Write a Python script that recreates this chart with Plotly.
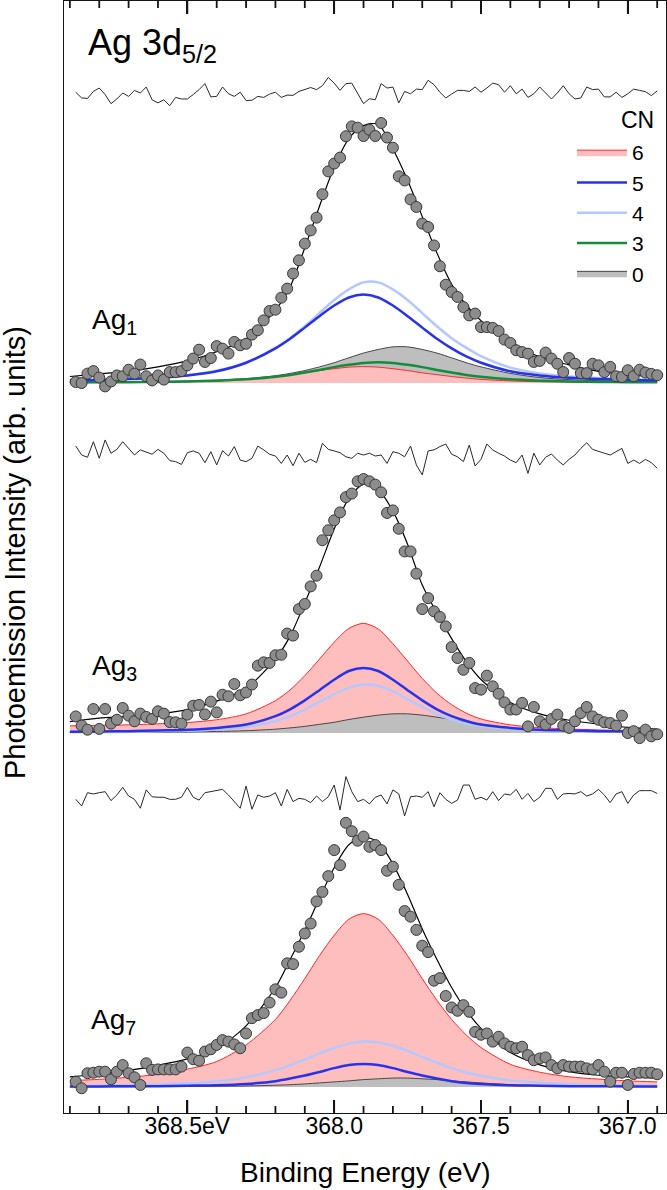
import plotly.graph_objects as go

# ---------------- data ----------------
# measured-point energy grid (eV)
energy = [
    368.88, 368.86, 368.84, 368.82, 368.80, 368.78, 368.76, 368.74, 368.72, 368.70,
    368.68, 368.66, 368.64, 368.62, 368.60, 368.58, 368.56, 368.54, 368.52, 368.50,
    368.48, 368.46, 368.44, 368.42, 368.40, 368.38, 368.36, 368.34, 368.32, 368.30,
    368.28, 368.26, 368.24, 368.22, 368.20, 368.18, 368.16, 368.14, 368.12, 368.10,
    368.08, 368.06, 368.04, 368.02, 368.00, 367.98, 367.96, 367.94, 367.92, 367.90,
    367.88, 367.86, 367.84, 367.82, 367.80, 367.78, 367.76, 367.74, 367.72, 367.70,
    367.68, 367.66, 367.64, 367.62, 367.60, 367.58, 367.56, 367.54, 367.52, 367.50,
    367.48, 367.46, 367.44, 367.42, 367.40, 367.38, 367.36, 367.34, 367.32, 367.30,
    367.28, 367.26, 367.24, 367.22, 367.20, 367.18, 367.16, 367.14, 367.12, 367.10,
    367.08, 367.06, 367.04, 367.02, 367.00, 366.98, 366.96, 366.94, 366.92, 366.90]

# fit-curve energy grid (eV)
energy_fit = [368.9, 368.8, 368.7, 368.6, 368.5, 368.4, 368.3, 368.2, 368.15, 368.1,
              368.05, 368.0, 367.95, 367.9, 367.85, 367.8, 367.75, 367.7, 367.65, 367.6,
              367.55, 367.5, 367.4, 367.3, 367.2, 367.1, 367.0, 366.9]

# ---- Ag1 ----
ag1_data = [
    0.004, 0.000, 0.036, 0.046, 0.021, -0.013, 0.006, 0.029, 0.026, 0.051,
    0.036, 0.071, 0.026, 0.010, 0.029, 0.013, 0.042, 0.042, 0.046, 0.068,
    0.094, 0.128, 0.081, 0.096, 0.142, 0.132, 0.113, 0.158, 0.145, 0.151,
    0.186, 0.203, 0.241, 0.277, 0.282, 0.328, 0.363, 0.421, 0.472, 0.536,
    0.587, 0.636, 0.726, 0.814, 0.844, 0.867, 0.949, 0.987, 0.982, 0.950,
    0.974, 0.950, 1.000, 0.944, 0.905, 0.795, 0.779, 0.706, 0.677, 0.613,
    0.600, 0.529, 0.449, 0.378, 0.350, 0.331, 0.292, 0.260, 0.267, 0.215,
    0.215, 0.212, 0.200, 0.167, 0.154, 0.126, 0.119, 0.113, 0.081, 0.085,
    0.117, 0.094, 0.074, 0.042, 0.096, 0.074, 0.038, 0.038, 0.074, 0.068,
    0.042, 0.062, 0.026, 0.023, 0.049, 0.026, 0.051, 0.040, 0.035, 0.030]
ag1_resid = [
    0.003, -0.019, -0.021, 0.006, 0.019, -0.006, -0.041, -0.023, 0.000, -0.013,
    0.010, 0.000, 0.023, -0.026, -0.038, -0.026, -0.049, -0.017, -0.023, -0.023,
    -0.006, 0.013, 0.036, -0.015, -0.013, 0.023, -0.003, -0.013, 0.003, -0.029,
    -0.028, -0.013, -0.017, -0.004, 0.003, -0.017, -0.008, -0.009, 0.006, 0.015,
    0.021, 0.013, 0.028, 0.060, 0.038, 0.010, 0.036, 0.038, -0.004, -0.041,
    -0.022, -0.026, 0.036, 0.019, 0.023, -0.038, 0.006, -0.003, 0.015, 0.013,
    0.049, 0.032, 0.003, -0.019, -0.004, 0.010, 0.010, 0.006, 0.023, 0.003,
    0.019, 0.038, 0.032, 0.003, 0.028, -0.003, 0.015, -0.017, -0.003, 0.023,
    0.000, -0.023, 0.000, 0.028, -0.003, -0.023, -0.019, 0.023, 0.013, 0.015,
    -0.015, -0.015, 0.003, -0.017, -0.003, 0.015, 0.010, 0.005, -0.010, 0.008]
ag1_fit = [0.025, 0.035, 0.045, 0.062, 0.085, 0.120, 0.170, 0.280, 0.370, 0.520,
           0.680, 0.830, 0.940, 0.990, 0.995, 0.900, 0.780, 0.640, 0.500, 0.380,
           0.300, 0.240, 0.160, 0.100, 0.070, 0.045, 0.032, 0.022]
ag1_cn6 = [0.002, 0.002, 0.003, 0.004, 0.005, 0.008, 0.014, 0.025, 0.032, 0.039,
           0.048, 0.055, 0.061, 0.063, 0.061, 0.055, 0.048, 0.039, 0.032, 0.025,
           0.019, 0.014, 0.008, 0.005, 0.004, 0.003, 0.002, 0.002]
ag1_cn5 = [0.010, 0.012, 0.015, 0.020, 0.029, 0.045, 0.078, 0.133, 0.170, 0.213,
           0.257, 0.298, 0.329, 0.340, 0.329, 0.298, 0.257, 0.213, 0.170, 0.133,
           0.102, 0.078, 0.045, 0.029, 0.020, 0.015, 0.012, 0.010]
ag1_cn4 = [0.011, 0.013, 0.017, 0.022, 0.030, 0.047, 0.078, 0.135, 0.172, 0.218,
           0.269, 0.319, 0.360, 0.387, 0.387, 0.360, 0.319, 0.269, 0.218, 0.172,
           0.135, 0.103, 0.059, 0.037, 0.025, 0.019, 0.015, 0.012]
ag1_cn3 = [0.002, 0.003, 0.003, 0.004, 0.006, 0.009, 0.014, 0.024, 0.031, 0.040,
           0.050, 0.061, 0.070, 0.077, 0.080, 0.077, 0.070, 0.061, 0.050, 0.040,
           0.031, 0.024, 0.014, 0.009, 0.006, 0.004, 0.003, 0.003]
ag1_cn0 = [0.003, 0.004, 0.005, 0.006, 0.008, 0.011, 0.017, 0.028, 0.037, 0.048,
           0.062, 0.078, 0.097, 0.115, 0.129, 0.139, 0.139, 0.129, 0.115, 0.097,
           0.078, 0.062, 0.037, 0.021, 0.013, 0.009, 0.007, 0.005]

# ---- Ag3 ----
ag3_data = [
    0.065, 0.029, 0.013, 0.094, 0.016, 0.094, 0.037, 0.052, 0.098, 0.068,
    0.046, 0.076, 0.063, 0.055, 0.085, 0.076, 0.043, 0.042, 0.037, 0.072,
    0.107, 0.110, 0.073, 0.123, 0.081, 0.150, 0.144, 0.192, 0.148, 0.159,
    0.190, 0.264, 0.277, 0.275, 0.305, 0.307, 0.390, 0.382, 0.486, 0.506,
    0.575, 0.617, 0.756, 0.795, 0.834, 0.865, 0.925, 0.939, 0.987, 0.996,
    0.987, 0.974, 0.944, 0.863, 0.873, 0.801, 0.712, 0.712, 0.625, 0.486,
    0.529, 0.477, 0.455, 0.418, 0.337, 0.294, 0.248, 0.275, 0.176, 0.170,
    0.225, 0.183, 0.154, 0.120, 0.092, 0.092, 0.118, 0.026, 0.102, 0.046,
    0.033, 0.055, 0.072, 0.029, 0.020, 0.046, 0.078, 0.102, 0.065, 0.052,
    0.042, 0.039, 0.029, 0.068, 0.000, 0.007, -0.020, 0.013, -0.013, -0.005]
ag3_resid = [
    0.035, 0.000, -0.009, 0.052, -0.013, 0.059, 0.007, 0.022, 0.052, 0.026,
    0.000, 0.020, 0.013, 0.003, 0.022, 0.007, -0.022, -0.026, -0.037, 0.009,
    0.016, 0.007, -0.030, 0.013, -0.039, 0.017, -0.004, 0.033, -0.020, -0.026,
    -0.013, 0.035, 0.020, 0.003, -0.004, -0.033, 0.000, -0.042, 0.007, -0.029,
    -0.017, -0.030, 0.046, 0.022, 0.016, 0.009, -0.007, -0.013, 0.007, 0.000,
    0.007, -0.004, 0.000, -0.033, 0.013, 0.007, -0.007, 0.035, -0.039, -0.078,
    0.016, 0.020, 0.033, 0.043, 0.003, -0.007, -0.026, 0.039, -0.043, -0.017,
    0.043, 0.020, 0.007, -0.004, -0.020, -0.030, 0.000, -0.072, 0.007, -0.039,
    -0.009, 0.004, -0.020, -0.039, -0.017, 0.000, 0.026, 0.048, 0.022, 0.013,
    0.007, 0.000, 0.013, 0.026, -0.033, -0.020, -0.033, -0.017, -0.030, -0.052]
ag3_fit = [0.045, 0.058, 0.065, 0.075, 0.092, 0.125, 0.175, 0.290, 0.380, 0.510,
           0.650, 0.800, 0.920, 0.975, 0.955, 0.870, 0.740, 0.580, 0.470, 0.370,
           0.280, 0.210, 0.120, 0.075, 0.050, 0.035, 0.022, 0.015]
ag3_cn6 = [0.028, 0.030, 0.032, 0.036, 0.041, 0.052, 0.075, 0.127, 0.169, 0.225,
           0.290, 0.356, 0.410, 0.430, 0.408, 0.350, 0.282, 0.214, 0.156, 0.111,
           0.078, 0.055, 0.032, 0.021, 0.016, 0.012, 0.010, 0.008]
ag3_cn5 = [0.005, 0.006, 0.007, 0.010, 0.013, 0.020, 0.033, 0.066, 0.093, 0.128,
           0.168, 0.209, 0.243, 0.255, 0.243, 0.209, 0.168, 0.128, 0.093, 0.066,
           0.047, 0.033, 0.020, 0.013, 0.010, 0.007, 0.006, 0.005]
ag3_cn4 = [0.004, 0.004, 0.005, 0.007, 0.009, 0.014, 0.023, 0.046, 0.066, 0.092,
           0.122, 0.152, 0.177, 0.190, 0.185, 0.163, 0.133, 0.102, 0.074, 0.053,
           0.037, 0.027, 0.016, 0.010, 0.008, 0.006, 0.005, 0.004]
ag3_cn0 = [0.002, 0.002, 0.003, 0.003, 0.004, 0.006, 0.009, 0.015, 0.020, 0.026,
           0.034, 0.042, 0.053, 0.062, 0.070, 0.075, 0.075, 0.070, 0.062, 0.053,
           0.042, 0.034, 0.020, 0.011, 0.007, 0.005, 0.004, 0.003]

# ---- Ag7 ----
ag7_data = [
    0.021, -0.005, 0.054, 0.056, 0.060, 0.060, 0.030, 0.060, 0.086, 0.054,
    0.038, 0.008, 0.093, 0.067, 0.069, 0.069, 0.069, 0.069, 0.080, 0.135,
    0.109, 0.103, 0.139, 0.148, 0.165, 0.184, 0.178, 0.167, 0.152, 0.210,
    0.270, 0.282, 0.290, 0.331, 0.383, 0.370, 0.485, 0.482, 0.550, 0.602,
    0.641, 0.728, 0.765, 0.827, 0.929, 0.870, 1.036, 1.003, 0.966, 0.982,
    0.942, 0.949, 0.929, 0.848, 0.864, 0.793, 0.690, 0.668, 0.616, 0.554,
    0.529, 0.417, 0.427, 0.357, 0.312, 0.299, 0.321, 0.295, 0.216, 0.205,
    0.210, 0.178, 0.197, 0.171, 0.158, 0.152, 0.158, 0.125, 0.105, 0.112,
    0.116, 0.086, 0.073, 0.086, 0.080, 0.080, 0.080, 0.073, 0.069, 0.086,
    0.060, 0.021, 0.056, 0.056, 0.008, 0.051, 0.056, 0.056, 0.056, 0.050]
ag7_resid = [
    -0.013, -0.039, 0.013, 0.008, 0.013, 0.017, -0.018, 0.004, 0.034, 0.000,
    -0.013, -0.048, 0.024, -0.003, -0.005, -0.005, -0.013, -0.013, -0.005, 0.034,
    -0.005, -0.016, 0.013, 0.017, 0.021, 0.026, 0.004, -0.022, -0.048, 0.039,
    -0.052, 0.004, -0.005, 0.000, 0.013, -0.039, 0.026, -0.022, -0.009, -0.013,
    -0.026, 0.000, -0.022, -0.003, 0.043, -0.055, 0.076, 0.017, -0.022, -0.013,
    -0.031, -0.005, 0.004, -0.031, 0.024, 0.008, -0.078, -0.003, 0.000, -0.005,
    0.017, -0.042, 0.013, -0.013, -0.029, -0.016, 0.043, 0.043, -0.013, -0.005,
    -0.016, 0.017, -0.018, 0.008, 0.004, 0.026, -0.013, 0.010, -0.022, -0.005,
    0.030, 0.030, -0.013, 0.008, 0.010, 0.008, 0.017, 0.000, 0.008, 0.026,
    0.004, -0.026, 0.008, 0.017, -0.029, 0.004, 0.021, 0.021, 0.021, 0.010]
ag7_fit = [0.040, 0.050, 0.065, 0.085, 0.110, 0.150, 0.240, 0.390, 0.500, 0.615,
           0.740, 0.860, 0.950, 0.980, 0.960, 0.875, 0.755, 0.620, 0.500, 0.390,
           0.300, 0.230, 0.135, 0.087, 0.060, 0.046, 0.040, 0.035]
ag7_cn6 = [0.025, 0.030, 0.038, 0.050, 0.070, 0.100, 0.165, 0.265, 0.340, 0.425,
           0.515, 0.595, 0.658, 0.680, 0.658, 0.595, 0.515, 0.425, 0.340, 0.265,
           0.204, 0.155, 0.089, 0.058, 0.040, 0.031, 0.024, 0.020]
ag7_cn5 = [0.002, 0.002, 0.003, 0.003, 0.005, 0.007, 0.012, 0.023, 0.033, 0.045,
           0.059, 0.074, 0.086, 0.090, 0.086, 0.074, 0.059, 0.045, 0.033, 0.023,
           0.016, 0.012, 0.007, 0.005, 0.003, 0.003, 0.002, 0.002]
ag7_cn4 = [0.005, 0.006, 0.008, 0.010, 0.015, 0.022, 0.038, 0.066, 0.086, 0.108,
           0.132, 0.153, 0.170, 0.178, 0.175, 0.162, 0.142, 0.118, 0.095, 0.074,
           0.057, 0.044, 0.026, 0.017, 0.011, 0.008, 0.007, 0.005]
ag7_cn0 = [0.001, 0.001, 0.001, 0.002, 0.002, 0.003, 0.004, 0.007, 0.009, 0.012,
           0.016, 0.020, 0.024, 0.029, 0.032, 0.035, 0.035, 0.032, 0.029, 0.024,
           0.020, 0.016, 0.009, 0.005, 0.003, 0.002, 0.002, 0.001]

tick_vals = [368.5, 368.0, 367.5, 367.0]
tick_text = ["368.5eV", "368.0", "367.5", "367.0"]
minor_tick_vals = [368.9, 368.8, 368.7, 368.6, 368.4, 368.3, 368.2, 368.1,
                   367.9, 367.8, 367.7, 367.6, 367.4, 367.3, 367.2, 367.1, 366.9]
cn_labels = ["6", "5", "4", "3", "0"]

# ---------------- layout constants (pixel-like vertical units) ----------------
W, H = 667, 1190
ML, MR, MT, MB = 64, 1, 1, 77
PH = H - MT - MB          # plot height in px
PW = W - ML - MR
FONT = "Liberation Sans, Arial, Helvetica, sans-serif"
XRANGE = [368.92, 366.87]
MAJOR_LEN, MINOR_LEN = 13, 7

C_PINK = "rgb(255,190,190)"
C_RED = "rgb(255,40,40)"
C_BLUE = "rgb(40,50,235)"
C_LBLUE = "rgb(180,200,255)"
C_GREEN = "rgb(20,140,60)"
C_GRAY = "rgb(190,190,190)"
C_GRAYLINE = "rgb(70,70,70)"
C_AXIS = "rgb(20,20,20)"

panels = {
    "Ag1": dict(base=730, scale=260, rbase=1020, rscale=260),
    "Ag3": dict(base=380, scale=255, rbase=658, rscale=255),
    "Ag7": dict(base=26, scale=255, rbase=317, rscale=255),
}

fig = go.Figure()


def yv(vals, base, scale):
    return [base + scale * v for v in vals]


def add_fill(vals, p, fillcolor, linecolor, name, show, rank):
    fig.add_trace(go.Scatter(x=energy_fit, y=[p["base"]] * len(energy_fit), mode="lines",
                             line=dict(width=0, color="rgba(0,0,0,0)"),
                             showlegend=False, hoverinfo="skip"))
    fig.add_trace(go.Scatter(x=energy_fit, y=yv(vals, p["base"], p["scale"]), mode="lines",
                             line=dict(color=linecolor, width=1, shape="spline", smoothing=0.8),
                             fill="tonexty", fillcolor=fillcolor, name=name,
                             showlegend=show, legendrank=rank))


def add_line(vals, p, color, width, name, show, rank):
    fig.add_trace(go.Scatter(x=energy_fit, y=yv(vals, p["base"], p["scale"]), mode="lines",
                             line=dict(color=color, width=width, shape="spline", smoothing=0.8),
                             name=name, showlegend=show, legendrank=rank))


def add_common(fit, data, resid, p):
    fig.add_trace(go.Scatter(x=energy_fit, y=yv(fit, p["base"], p["scale"]), mode="lines",
                             line=dict(color="black", width=1.2, shape="spline", smoothing=0.8),
                             showlegend=False))
    fig.add_trace(go.Scatter(x=energy, y=yv(data, p["base"], p["scale"]), mode="markers",
                             marker=dict(size=11, color="rgb(140,140,140)",
                                         line=dict(color="rgb(55,55,55)", width=1)),
                             showlegend=False))
    fig.add_trace(go.Scatter(x=energy, y=yv(resid, p["rbase"], p["rscale"]), mode="lines",
                             line=dict(color="rgb(40,40,40)", width=1), showlegend=False))


# Ag1 (legend entries come from here)
p = panels["Ag1"]
add_fill(ag1_cn0, p, C_GRAY, C_GRAYLINE, cn_labels[4], True, 5)
add_fill(ag1_cn6, p, C_PINK, C_RED, cn_labels[0], True, 1)
add_line(ag1_cn3, p, C_GREEN, 2.5, cn_labels[3], True, 4)
add_line(ag1_cn4, p, C_LBLUE, 2.5, cn_labels[2], True, 3)
add_line(ag1_cn5, p, C_BLUE, 2.5, cn_labels[1], True, 2)
add_common(ag1_fit, ag1_data, ag1_resid, p)

# Ag3
p = panels["Ag3"]
add_fill(ag3_cn6, p, C_PINK, C_RED, cn_labels[0], False, 1)
add_fill(ag3_cn0, p, C_GRAY, C_GRAYLINE, cn_labels[4], False, 5)
add_line(ag3_cn4, p, C_LBLUE, 2.5, cn_labels[2], False, 3)
add_line(ag3_cn5, p, C_BLUE, 2.5, cn_labels[1], False, 2)
add_common(ag3_fit, ag3_data, ag3_resid, p)

# Ag7
p = panels["Ag7"]
add_fill(ag7_cn6, p, C_PINK, C_RED, cn_labels[0], False, 1)
add_fill(ag7_cn0, p, C_GRAY, C_GRAYLINE, cn_labels[4], False, 5)
add_line(ag7_cn4, p, C_LBLUE, 2.5, cn_labels[2], False, 3)
add_line(ag7_cn5, p, C_BLUE, 2.5, cn_labels[1], False, 2)
add_common(ag7_fit, ag7_data, ag7_resid, p)


def px(xpix):
    return (xpix - ML) / PW


def py(ypix):
    return (H - MB - ypix) / PH


# tick marks on the bottom and top frame edges (inside), placed at the axis tick values
shapes = []
for vals, ln in ((tick_vals, MAJOR_LEN), (minor_tick_vals, MINOR_LEN)):
    for v in vals:
        for y0, y1 in ((0, ln / PH), (1, 1 - ln / PH)):
            shapes.append(dict(type="line", xref="x", yref="paper", x0=v, x1=v, y0=y0, y1=y1,
                               line=dict(color=C_AXIS, width=1.8), layer="above"))

annotations = [
    dict(text="Ag 3d<sub>5/2</sub>", x=px(86), y=py(45), xanchor="left", yanchor="middle",
         font=dict(size=36, family=FONT, color="black")),
    dict(text="Ag<sub>1</sub>", x=px(90), y=py(321), xanchor="left", yanchor="middle",
         font=dict(size=28, family=FONT, color="black")),
    dict(text="Ag<sub>3</sub>", x=px(90), y=py(668), xanchor="left", yanchor="middle",
         font=dict(size=28, family=FONT, color="black")),
    dict(text="Ag<sub>7</sub>", x=px(89), y=py(1021), xanchor="left", yanchor="middle",
         font=dict(size=28, family=FONT, color="black")),
    dict(text="CN", x=px(656), y=py(120), xanchor="right", yanchor="middle",
         font=dict(size=23, family=FONT, color="black")),
    dict(text="Photoemission Intensity (arb. units)", x=px(15), y=py(553), textangle=-90,
         xanchor="center", yanchor="middle", font=dict(size=29, family=FONT, color="black")),
    dict(text="Binding Energy (eV)", x=px(365), y=py(1172), xanchor="center", yanchor="middle",
         font=dict(size=28, family=FONT, color="black")),
]
for a in annotations:
    a.update(xref="paper", yref="paper", showarrow=False)

fig.update_layout(
    width=W, height=H,
    margin=dict(l=ML, r=MR, t=MT, b=MB),
    paper_bgcolor="white", plot_bgcolor="white",
    font=dict(family=FONT, color="black"),
    annotations=annotations,
    shapes=shapes,
    legend=dict(x=px(649), y=py(132), xanchor="right", yanchor="top",
                bgcolor="rgba(0,0,0,0)", font=dict(size=21, family=FONT),
                itemwidth=50, tracegroupgap=0, traceorder="normal"),
    xaxis=dict(range=XRANGE, tickmode="array", tickvals=tick_vals, ticktext=tick_text,
               ticks="inside", ticklen=MAJOR_LEN, tickwidth=1.8, tickcolor=C_AXIS,
               showline=True, linecolor=C_AXIS, linewidth=1.4, mirror="ticks",
               ticklabelstandoff=-8,
               tickfont=dict(size=23, family=FONT, color="black"),
               showgrid=False, zeroline=False),
    yaxis=dict(range=[0, PH], showline=True, linecolor=C_AXIS, linewidth=1.4, mirror=True,
               showticklabels=False, ticks="", showgrid=False, zeroline=False),
)

fig.write_html("out.html", config={"displayModeBar": False},
               post_script="document.body.style.margin='0';document.body.style.overflow='hidden';")
